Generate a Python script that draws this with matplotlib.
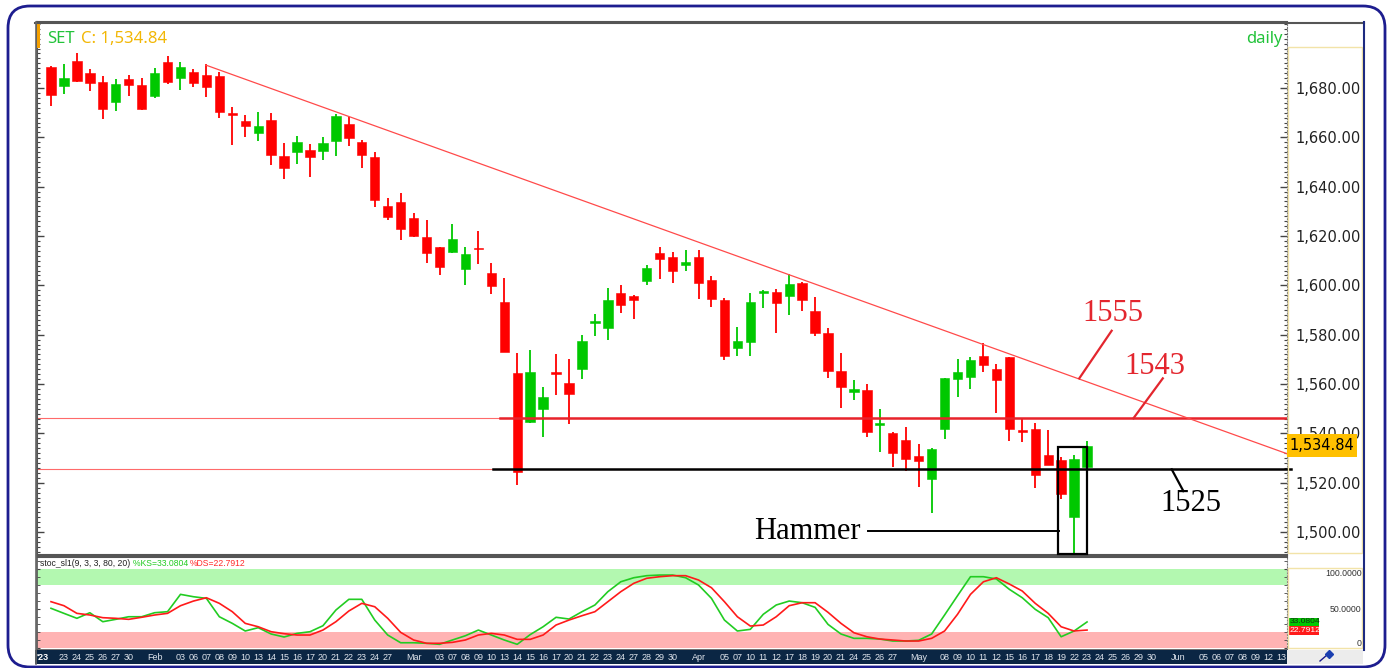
import numpy as np
import matplotlib
matplotlib.use('Agg')
import matplotlib.pyplot as plt
from matplotlib.patches import Rectangle, FancyBboxPatch
from matplotlib.lines import Line2D
from matplotlib.transforms import IdentityTransform
from matplotlib.ticker import MultipleLocator, FixedLocator, FuncFormatter

""" Data (SET index, daily) """
opens = [1688.6, 1680.8, 1690.9, 1686.0, 1682.6, 1674.2, 1683.6, 1681.2, 1676.9, 1690.7,
         1683.9, 1686.6, 1685.3, 1684.9, 1669.8, 1666.7, 1661.6, 1667.0, 1652.4, 1654.2,
         1654.9, 1654.6, 1658.6, 1665.3, 1658.2, 1652.1, 1632.3, 1633.9, 1627.4, 1619.5,
         1615.4, 1613.4, 1606.6, 1615.3, 1605.1, 1593.1, 1564.3, 1544.7, 1549.7, 1564.8,
         1560.6, 1566.0, 1584.9, 1582.6, 1597.0, 1595.5, 1601.9, 1613.2, 1611.4, 1608.2,
         1611.6, 1602.2, 1594.1, 1574.5, 1577.2, 1597.0, 1597.4, 1595.7, 1600.8, 1589.6,
         1580.8, 1565.3, 1556.9, 1557.6, 1543.4, 1540.3, 1537.3, 1530.8, 1521.5, 1541.7,
         1562.0, 1563.0, 1571.4, 1566.0, 1570.8, 1541.4, 1541.7, 1531.2, 1529.2, 1506.0,
         1526.2]
highs = [1689.0, 1689.6, 1694.1, 1687.6, 1684.9, 1683.6, 1685.3, 1683.9, 1688.0, 1693.0,
         1690.4, 1687.6, 1689.6, 1686.6, 1672.2, 1669.0, 1670.2, 1669.7, 1657.6, 1660.5,
         1657.3, 1660.3, 1669.3, 1668.4, 1658.9, 1654.2, 1635.4, 1637.3, 1629.2, 1626.5,
         1615.7, 1624.9, 1615.7, 1621.9, 1609.2, 1602.9, 1572.4, 1573.8, 1558.9, 1572.2,
         1570.0, 1579.9, 1588.4, 1599.0, 1600.1, 1596.1, 1608.2, 1615.7, 1613.6, 1614.3,
         1614.3, 1603.9, 1594.7, 1583.2, 1597.0, 1598.1, 1598.4, 1604.6, 1601.5, 1595.4,
         1582.6, 1572.4, 1561.6, 1560.0, 1549.9, 1540.7, 1542.7, 1535.7, 1533.9, 1562.5,
         1570.0, 1571.1, 1576.5, 1568.0, 1570.8, 1545.7, 1544.1, 1541.4, 1530.5, 1531.2,
         1536.9]
lows = [1672.7, 1677.6, 1682.5, 1678.9, 1667.4, 1670.8, 1676.8, 1671.0, 1675.8, 1681.6,
        1679.2, 1680.5, 1676.5, 1667.7, 1656.9, 1660.3, 1658.6, 1648.8, 1643.1, 1649.2,
        1644.0, 1650.8, 1652.4, 1656.6, 1647.7, 1631.9, 1626.5, 1618.4, 1619.7, 1608.9,
        1604.2, 1613.0, 1600.1, 1608.6, 1596.5, 1573.1, 1519.1, 1544.1, 1538.4, 1555.5,
        1543.7, 1561.9, 1579.5, 1577.8, 1588.7, 1586.2, 1600.1, 1602.6, 1601.1, 1605.9,
        1594.3, 1591.3, 1569.7, 1571.4, 1571.4, 1590.7, 1580.8, 1588.0, 1589.6, 1579.5,
        1562.3, 1550.2, 1553.5, 1538.6, 1532.6, 1526.5, 1524.9, 1518.4, 1507.8, 1537.7,
        1554.9, 1558.0, 1565.0, 1548.4, 1537.0, 1536.6, 1517.7, 1527.2, 1513.3, 1491.4,
        1518.7]
closes = [1677.2, 1683.9, 1682.8, 1682.2, 1671.5, 1681.5, 1681.2, 1671.5, 1686.0, 1682.6,
          1688.4, 1682.2, 1680.5, 1670.4, 1669.2, 1664.6, 1664.7, 1652.8, 1647.7, 1658.2,
          1651.9, 1657.6, 1668.8, 1659.6, 1652.8, 1634.6, 1627.8, 1622.7, 1620.1, 1613.0,
          1607.3, 1618.7, 1612.7, 1614.6, 1599.7, 1573.1, 1524.4, 1565.0, 1554.6, 1564.1,
          1555.8, 1577.4, 1585.3, 1594.1, 1592.0, 1593.9, 1607.2, 1610.6, 1605.9, 1609.3,
          1600.8, 1594.3, 1571.4, 1577.4, 1593.4, 1597.4, 1593.0, 1600.5, 1594.1, 1580.8,
          1565.4, 1558.7, 1557.9, 1540.7, 1544.1, 1531.9, 1529.5, 1528.9, 1533.7, 1562.5,
          1564.8, 1569.7, 1567.7, 1561.6, 1541.8, 1540.4, 1523.1, 1527.2, 1515.4, 1529.5,
          1534.84]

# stochastic slow (9, 3, 3)
stoch_k = [50.4, 44.0, 37.7, 44.8, 33.4, 36.4, 39.7, 39.7, 44.8, 46.1,
           68.1, 65.1, 63.0, 39.7, 31.3, 21.6, 25.8, 17.8, 14.0, 18.6,
           20.7, 28.3, 48.2, 61.8, 61.8, 35.5, 16.5, 6.7, 6.7, 6.0,
           4.7, 10.2, 15.6, 22.8, 16.5, 10.2, 4.7, 17.0, 27.0, 39.0,
           36.8, 46.1, 54.6, 71.5, 84.1, 89.2, 91.8, 92.6, 92.6, 89.2,
           80.0, 63.0, 35.5, 21.6, 23.7, 42.8, 54.6, 59.6, 57.5, 51.6,
           30.0, 17.8, 12.3, 12.3, 11.4, 8.9, 8.9, 9.8, 17.8, 41.9,
           66.4, 90.5, 90.5, 87.6, 74.5, 63.8, 49.1, 38.5, 14.3, 21.6,
           33.0804]
stoch_d = [58.8, 53.7, 44.0, 41.9, 38.5, 37.7, 36.4, 39.0, 41.9, 44.0,
           53.7, 59.6, 63.8, 56.7, 46.1, 31.3, 27.0, 20.7, 18.2, 16.5,
           16.5, 22.8, 33.4, 47.0, 56.7, 52.4, 37.7, 19.9, 10.2, 6.0,
           6.0, 7.2, 10.2, 16.5, 18.6, 16.5, 11.0, 11.0, 16.5, 29.2,
           35.5, 41.0, 46.1, 58.8, 71.5, 82.1, 88.5, 90.5, 91.8, 91.8,
           86.3, 76.5, 58.8, 39.7, 27.9, 29.2, 39.7, 53.7, 57.5, 57.5,
           45.3, 31.3, 19.4, 14.3, 11.4, 10.2, 8.9, 8.9, 12.3, 21.6,
           42.8, 68.1, 84.1, 89.2, 81.2, 72.3, 56.7, 44.0, 27.0, 21.6,
           22.7912]

# date labels, one slot per trading day ('' = no label)
date_labels = ["", "23", "24", "25", "26", "27", "30", "",
               "Feb", "", "03", "06", "07", "08", "09", "10", "13", "14", "15", "16", "17",
               "20", "21", "22", "23", "24", "27", "",
               "Mar", "", "03", "07", "08", "09", "10", "13", "14", "15", "16", "17",
               "20", "21", "22", "23", "24", "27", "28", "29", "30", "",
               "Apr", "", "05", "07", "10", "11", "12", "17", "18", "19", "20", "21",
               "24", "25", "26", "27", "",
               "May", "", "08", "09", "10", "11", "12", "15", "16", "17", "18", "19",
               "22", "23", "24", "25", "26", "29", "30", "",
               "Jun", "", "05", "06", "07", "08", "09", "12", "13"]

price_ticks = [1500, 1520, 1540, 1560, 1580, 1600, 1620, 1640, 1660, 1680]
stoch_ticks = ['100.0000', '50.0000', '0']
resistance = 1546.1
support = 1525.4
last_close = closes[-1]

""" Figure """
W, H = 1391, 668
fig = plt.figure(figsize=(W / 100, H / 100), dpi=100)


def fx(x):
    return x / W


def fy(y):
    return 1 - y / H


def px_rect(x0, y0, x1, y1, **kw):
    r = Rectangle((fx(x0), fy(y1)), (x1 - x0) / W, (y1 - y0) / H,
                  transform=fig.transFigure, **kw)
    fig.add_artist(r)
    return r


def px_line(xs, ys, **kw):
    fig.add_artist(Line2D([fx(x) for x in xs], [fy(y) for y in ys],
                          transform=fig.transFigure, **kw))


RED = '#ff0000'
GREEN = '#00c800'
SMALL = 'Liberation Sans'
xlim = (-1.08, 95.44)

# outer rounded frame
frame = FancyBboxPatch((8, H - 667), 1377, 661, boxstyle='round,pad=0,rounding_size=22',
                       transform=IdentityTransform(), facecolor='white',
                       edgecolor='#1d1d8f', lw=2, zorder=-10)
fig.add_artist(frame)

""" Price panel """
ax = fig.add_axes([fx(37), fy(555), (1287 - 37) / W, (555 - 22) / H])
idx = np.arange(len(closes))
o = np.array(opens)
c = np.array(closes)
cols = [GREEN if c[i] >= o[i] else RED for i in idx]

ax.vlines(idx, lows, highs, colors=cols, lw=1.3, zorder=3)
body_lo = np.minimum(o, c)
body_h = np.maximum(np.abs(c - o), 0.7)
body_lo = np.where(np.abs(c - o) < 0.7, (o + c) / 2 - 0.35, body_lo)
ax.bar(idx, body_h, width=0.72, bottom=body_lo, color=cols, edgecolor=cols, lw=0.4, zorder=4)

# thin full width levels
ax.axhline(resistance, color='#ff6a6a', lw=0.8, zorder=1)
ax.axhline(support, color='#ff6a6a', lw=0.8, zorder=1)
# thick levels from the March low onwards
ax.plot([34.7, xlim[1]], [resistance, resistance], color='#e8232b', lw=1.8, zorder=5)
ax.plot([34.1, xlim[1] + 0.3], [support, support], color='black', lw=1.8, zorder=5,
        clip_on=False)

# falling trend line from the Feb high
t0, p0, slope = 11.95, 1689.3, -1.887
ax.plot([t0, xlim[1]], [p0, p0 + slope * (xlim[1] - t0)], color='#ff4a4a', lw=0.9, zorder=5)

# annotations
serif = 'Liberation Serif'
ax.text(82.0, 1585.6, '1555', color='#e3262e', fontsize=22, family=serif, ha='center',
        va='baseline', zorder=6)
ax.plot([81.9, 79.4], [1581.6, 1562.3], color='#e3262e', lw=1.6, zorder=6)
ax.text(85.25, 1564.1, '1543', color='#e3262e', fontsize=22, family=serif, ha='center',
        va='baseline', zorder=6)
ax.plot([85.85, 83.58], [1562.3, resistance], color='#e3262e', lw=1.6, zorder=6)
ax.text(88.0, 1508.6, '1525', color='black', fontsize=22, family=serif, ha='center',
        va='baseline', zorder=6)
ax.plot([86.54, 87.44], [support, 1516.6], color='black', lw=1.6, zorder=6)
ax.text(58.42, 1497.0, 'Hammer', color='black', fontsize=22, family=serif, ha='center',
        va='baseline', zorder=6)
ax.plot([63.07, 77.86], [1500.5, 1500.5], color='black', lw=1.4, zorder=6)
ax.add_patch(Rectangle((77.74, 1491.1), 2.28, 43.5, fill=False, edgecolor='black',
                       lw=1.6, zorder=7, clip_on=False))

ax.set_xlim(*xlim)
ax.set_ylim(1490.7, 1706.75)
ax.set_xticks([])
ax.yaxis.set_major_locator(FixedLocator(price_ticks))
ax.yaxis.set_minor_locator(MultipleLocator(2))
ax.yaxis.set_major_formatter(FuncFormatter(lambda v, p: f'{v:,.2f}'))
ax.tick_params(axis='y', which='both', direction='in', left=True, right=True,
               labelleft=False, labelright=True, colors='#444444', labelcolor='#222222',
               labelsize=10.5, pad=6)
ax.tick_params(axis='y', which='major', length=5, width=1)
ax.tick_params(axis='y', which='minor', length=2.5, width=0.8)
for s in ['top', 'bottom', 'left']:
    ax.spines[s].set_color('#555555')
    ax.spines[s].set_linewidth(1.5)
ax.spines['right'].set_color('#777777')
ax.spines['right'].set_linestyle(':')

""" Stochastic panel """
ax2 = fig.add_axes([fx(37), fy(650), (1287 - 37) / W, (650 - 557) / H])
ax2.axhspan(80, 100, color='#b3f8b0', lw=0, zorder=1)
ax2.axhspan(0, 20, color='#ffb3b3', lw=0, zorder=1)
ax2.plot(idx, stoch_k, color='#22cc22', lw=1.2, zorder=3)
ax2.plot(idx, stoch_d, color='#ff1a1a', lw=1.2, zorder=4)
ax2.set_xlim(*xlim)
ax2.set_ylim(-2.5, 115.5)
ax2.set_xticks([])
ax2.yaxis.set_major_locator(MultipleLocator(50))
ax2.yaxis.set_minor_locator(MultipleLocator(10))
ax2.tick_params(axis='y', which='both', direction='in', left=True, right=True,
                labelleft=False, labelright=False, colors='#444444', length=2.5)
for s in ['top', 'bottom', 'left']:
    ax2.spines[s].set_color('#555555')
    ax2.spines[s].set_linewidth(1.2)
ax2.spines['top'].set_linewidth(1.5)
ax2.spines['right'].set_color('#777777')
ax2.spines['right'].set_linestyle(':')

# indicator header, pieces placed one after another
renderer = fig.canvas.get_renderer()
xpos = 40
pieces = [('stoc_sl1(9, 3, 3, 80, 20) ', '#222222'),
          (f'%KS={stoch_k[-1]:.4f} ', '#22cc22'),
          (f'%DS={stoch_d[-1]:.4f}', '#ff2a2a')]
for txt, col in pieces:
    t = fig.text(fx(xpos), fy(565.5), txt, color=col, fontsize=6.2, family=SMALL,
                 va='baseline')
    xpos += t.get_window_extent(renderer).width

# stochastic scale on the right
for val, ypix in zip(stoch_ticks, [574, 609, 644]):
    fig.text(fx(1361.5), fy(ypix), val, color='#333333', fontsize=6.3, family=SMALL,
             ha='right', va='center')
px_rect(1289, 617.5, 1319, 626, facecolor='#00c800', lw=0)
px_rect(1289, 626, 1319, 635, facecolor='#ff1a1a', lw=0)
fig.text(fx(1289.5), fy(621.8), f'{stoch_k[-1]:.4f}', color='#113311', fontsize=6.1,
         family=SMALL, va='center')
fig.text(fx(1289.5), fy(630.5), f'{stoch_d[-1]:.4f}', color='white', fontsize=6.1,
         family=SMALL, va='center')

""" Date bar """
axd = fig.add_axes([fx(35), fy(664), (1287 - 35) / W, (664 - 650) / H])
axd.set_facecolor('#0b2644')
axd.set_xlim(xlim[0] - 2 / 12.95, xlim[1])
axd.set_ylim(0, 1)
axd.set_xticks([])
axd.set_yticks([])
for s in axd.spines.values():
    s.set_visible(False)
for i, lab in enumerate(date_labels):
    if lab:
        axd.text(i, 0.45, lab, color='#dfe4ec', fontsize=6.5, family=SMALL,
                 ha='center', va='center')
fig.text(fx(36.5), fy(657.5), "'23", color='white', fontsize=6.5, family=SMALL,
         fontweight='bold', va='center')
px_rect(1287, 650, 1363, 664, facecolor='#ececec', lw=0)
px_line([1320, 1327], [661, 655], color='#1a1a8c', lw=1)
fig.add_artist(Line2D([fx(1329)], [fy(654)], marker='D', markersize=4,
                      color='#1a3fb0', transform=fig.transFigure))

""" Frame pieces and labels """
px_line([35, 1364], [22.5, 22.5], color='#555555', lw=1.5)
px_line([35.5, 35.5], [22, 664], color='#666666', lw=1.2)
px_line([1364, 1364], [22, 650], color='#1d2a80', lw=1.5)
px_rect(1288, 47, 1362, 553, fill=False, edgecolor='#f2e3a8', lw=1)
px_rect(1288, 568, 1362, 648, fill=False, edgecolor='#f2e3a8', lw=1)
px_rect(37, 24, 40, 48, facecolor='#f5a000', lw=0)

# last price tag (covers the lower half of the 1,540.00 label like the original)
px_rect(1287, 434, 1357, 457, facecolor='#ffc000', lw=0, zorder=20)
fig.text(fx(1322), fy(446), f'{last_close:,.2f}', color='black', fontsize=10.5,
         ha='center', va='center', zorder=21)

fig.text(fx(46.7), fy(42.7), 'SET', color='#22c33a', fontsize=12, family='Noto Sans',
         va='baseline')
fig.text(fx(80.7), fy(42.7), f'C: {last_close:,.2f}', color='#f2b705', fontsize=12,
         family='Noto Sans', va='baseline')
fig.text(fx(1283), fy(42.7), 'daily', color='#22c33a', fontsize=12, family='Noto Sans',
         ha='right', va='baseline')

fig.savefig('out.png', dpi=100)
